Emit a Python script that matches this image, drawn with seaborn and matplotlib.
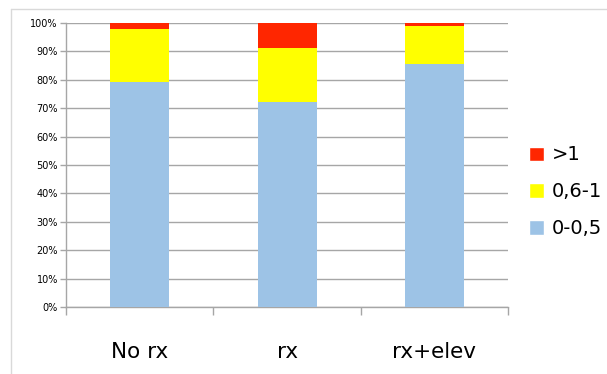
import matplotlib
matplotlib.use("Agg")
import matplotlib.pyplot as plt
import seaborn as sns
import pandas as pd
import numpy as np
from matplotlib.patches import Patch
from matplotlib.lines import Line2D

categories = ["No rx", "rx", "rx+elev"]
low = [79.2, 72.2, 85.5]      # 0-0,5
mid = [18.6, 19.1, 13.3]      # 0,6-1
high = [2.2, 8.7, 1.2]        # >1
series_labels = ["0-0,5", "0,6-1", ">1"]
colors = ["#9DC3E6", "#FFFF00", "#FF2600"]
yticks = [0, 10, 20, 30, 40, 50, 60, 70, 80, 90, 100]

sns.set_theme(style="white")
plt.rcParams['font.family'] = ['DejaVu Sans']
plt.rcParams['text.color'] = 'black'
plt.rcParams['xtick.color'] = 'black'
plt.rcParams['ytick.color'] = 'black'

df = pd.DataFrame({"cat": categories, "low": low, "mid": mid, "high": high})
df["c1"] = df["low"]
df["c2"] = df["low"] + df["mid"]
df["c3"] = df["c2"] + df["high"]

fig = plt.figure(figsize=(6.07, 3.74), dpi=100)
ax = fig.add_axes([0.109, 0.179, 0.728, 0.7595])

for col, c in zip(["c3", "c2", "c1"], [colors[2], colors[1], colors[0]]):
    sns.barplot(data=df, x="cat", y=col, color=c, width=0.4, ax=ax,
                saturation=1, edgecolor="none", linewidth=0, zorder=3)

ax.set_ylim(0, 100)
ax.set_xlim(-0.5, 2.5)
ax.set_yticks(yticks)
ax.set_yticklabels([f"{v}%" for v in yticks], fontsize=7, color="black")
ax.set_xlabel("")
ax.set_ylabel("")
ax.yaxis.grid(True, color="#A6A6A6", linewidth=1.0, zorder=0)
ax.set_axisbelow(True)
for s in ["top", "right"]:
    ax.spines[s].set_visible(False)
for s in ["left", "bottom"]:
    ax.spines[s].set_color("#A6A6A6")
    ax.spines[s].set_linewidth(1.0)

ax.set_xticks([0, 1, 2])
ax.set_xticklabels(categories, fontsize=15.5, color="black")
ax.tick_params(axis="x", length=0, pad=25)
ax.set_xticks([-0.5, 0.5, 1.5, 2.5], minor=True)
ax.tick_params(axis="x", which="minor", length=6, color="#A6A6A6", width=1, direction="out", bottom=True)
ax.tick_params(axis="y", length=4, color="#A6A6A6", width=1, direction="out", left=True, pad=2)

handles = [Patch(facecolor=colors[2], label=series_labels[2]),
           Patch(facecolor=colors[1], label=series_labels[1]),
           Patch(facecolor=colors[0], label=series_labels[0])]
leg = fig.legend(handles=handles, loc="center left", bbox_to_anchor=(0.843, 0.487),
                 frameon=False, fontsize=14, handlelength=0.75, handleheight=0.75,
                 handletextpad=0.4, labelspacing=0.92)
for t in leg.get_texts():
    t.set_color("black")

fig.add_artist(Line2D([11/607, 1.0], [1 - 9/374, 1 - 9/374], transform=fig.transFigure,
                      color="#D9D9D9", linewidth=1))
fig.add_artist(Line2D([11/607, 11/607], [0, 1 - 9/374], transform=fig.transFigure,
                      color="#D9D9D9", linewidth=1))

fig.savefig("out.png", dpi=100)
